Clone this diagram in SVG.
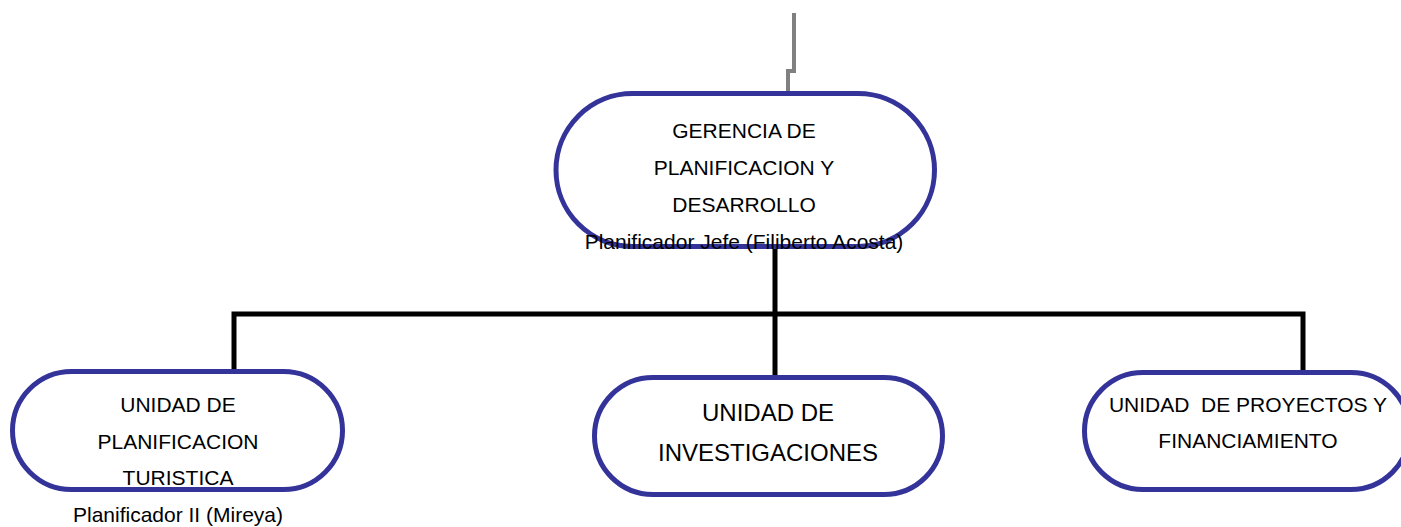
<svg xmlns="http://www.w3.org/2000/svg" width="1401" height="527" viewBox="0 0 1401 527">
<style>
.node{fill:#ffffff;stroke:#333399;stroke-width:5}
.t{font-family:"Liberation Sans",Arial,sans-serif;font-size:21px;fill:#000000;text-anchor:middle}
.big{font-size:24px}
.conn{fill:none;stroke:#000000;stroke-width:5}
.gray{fill:none;stroke:#808080;stroke-width:4}
</style>
<rect width="1401" height="527" fill="#ffffff"/>
<g id="connectors">
<polyline class="gray" points="794,13 794,71 788,71 788,94"/>
<polyline class="conn" points="775,247 775,376"/>
<polyline class="conn" points="234,371 234,314 1303,314 1303,371"/>
</g>
<g id="gerencia">
<rect class="node" x="556" y="93.5" width="378.5" height="153" rx="76.5"/>
<text class="t" x="744" y="138">GERENCIA DE</text>
<text class="t" x="744" y="175">PLANIFICACION Y</text>
<text class="t" x="744" y="212">DESARROLLO</text>
<text class="t" x="744" y="249">Planificador Jefe (Filiberto Acosta)</text>
</g>
<g id="unidad-planificacion">
<rect class="node" x="12.5" y="371.5" width="330" height="118" rx="59"/>
<text class="t" x="178" y="412">UNIDAD DE</text>
<text class="t" x="178" y="449">PLANIFICACION</text>
<text class="t" x="178" y="485">TURISTICA</text>
<text class="t" x="178" y="522">Planificador II (Mireya)</text>
</g>
<g id="unidad-investigaciones">
<rect class="node" x="594.5" y="377.5" width="348" height="117" rx="58.5"/>
<text class="t big" x="768" y="421">UNIDAD DE</text>
<text class="t big" x="768" y="461">INVESTIGACIONES</text>
</g>
<g id="unidad-proyectos">
<rect class="node" x="1084.5" y="372.5" width="325" height="117" rx="58.5"/>
<text class="t" x="1248" y="412" xml:space="preserve">UNIDAD  DE PROYECTOS Y</text>
<text class="t" x="1248" y="448">FINANCIAMIENTO</text>
</g>
</svg>
